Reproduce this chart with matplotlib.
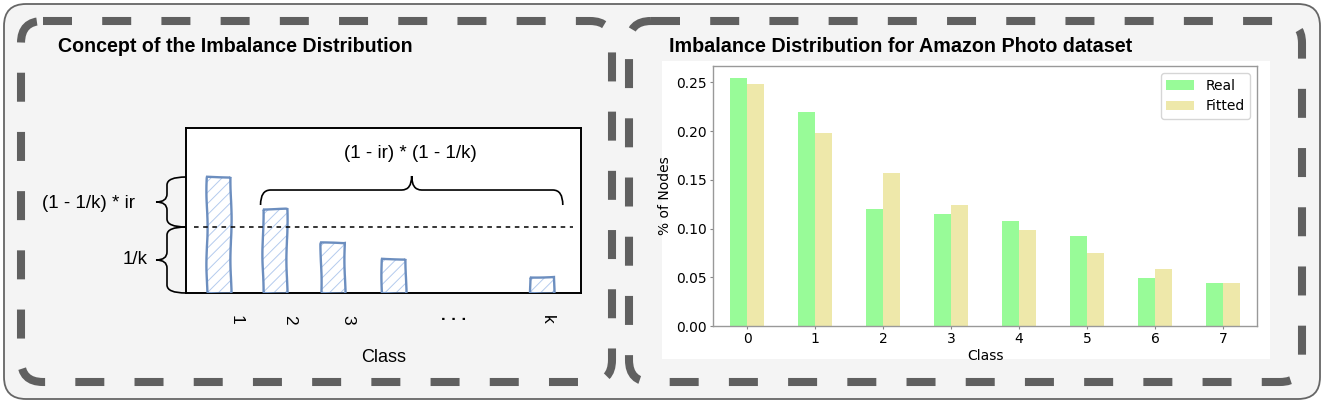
import numpy as np
import matplotlib
matplotlib.use("Agg")
import matplotlib.pyplot as plt
from matplotlib.patches import FancyBboxPatch, Rectangle, PathPatch
from matplotlib.path import Path

W, H = 1325, 405

# left panel: concept sketch (heights relative to the box height)
concept_labels = ["1", "2", "3", "\u00b7 \u00b7 \u00b7", "k"]
concept_pos = [1.0, 1.95, 2.95, 3.98, 6.5]
concept_heights = [0.703, 0.509, 0.303, 0.206, 0.097]
concept_tick_pos = [1.3, 2.2, 3.2, 5.0, 6.6]
uniform_level = 0.4

# right panel: Amazon Photo class distribution
classes = [0, 1, 2, 3, 4, 5, 6, 7]
real = [0.254, 0.220, 0.120, 0.115, 0.108, 0.092, 0.049, 0.044]
fitted = [0.248, 0.198, 0.157, 0.124, 0.098, 0.075, 0.058, 0.044]

TEXT_FONT = ["Liberation Sans", "DejaVu Sans"]
DASH_GRAY = "#606060"


def px_rect(x0, y0, x1, y1):
    return [x0 / W, 1 - y1 / H, (x1 - x0) / W, (y1 - y0) / H]


def to_bg(ax, x, y):
    return bg.transData.inverted().transform(ax.transData.transform((x, y)))


def brace(target, p0, p1, normal, h1, h2, r, **kw):
    # curly brace between p0 and p1 (bg pixel coords), tip pointing along normal
    p0 = np.asarray(p0, float)
    p1 = np.asarray(p1, float)
    L = np.linalg.norm(p1 - p0)
    eu = (p1 - p0) / L
    ev = np.asarray(normal, float)
    local = [(0, 0), (0, h1), (r, h1), (L / 2 - r, h1), (L / 2, h1), (L / 2, h1 + h2),
             (L / 2, h1), (L / 2 + r, h1), (L - r, h1), (L, h1), (L, 0)]
    codes = [Path.MOVETO, Path.CURVE3, Path.CURVE3, Path.LINETO, Path.CURVE3, Path.CURVE3,
             Path.CURVE3, Path.CURVE3, Path.LINETO, Path.CURVE3, Path.CURVE3]
    verts = [p0 + u * eu + v * ev for u, v in local]
    target.add_patch(PathPatch(Path(verts, codes), fill=False, transform=bg.transData,
                               clip_on=False, zorder=5, **kw))


plt.rcParams["hatch.linewidth"] = 0.7
fig = plt.figure(figsize=(W / 100, H / 100), dpi=100)
fig.patch.set_facecolor("white")

# background canvas in pixel coordinates
bg = fig.add_axes([0, 0, 1, 1])
bg.set_xlim(0, W)
bg.set_ylim(H, 0)
bg.axis("off")

bg.add_patch(FancyBboxPatch((4, 4), 1316, 395, boxstyle="round,pad=0,rounding_size=22",
                            fc="#f4f4f4", ec="#666666", lw=1.3))
dash_style = (0, (3.6, 3.75))
bg.add_patch(FancyBboxPatch((21, 21), 591, 361, boxstyle="round,pad=0,rounding_size=22",
                            fill=False, ec=DASH_GRAY, lw=5.8, ls=dash_style))
bg.add_patch(FancyBboxPatch((629, 21), 673, 361, boxstyle="round,pad=0,rounding_size=22",
                            fill=False, ec=DASH_GRAY, lw=5.8, ls=dash_style))
bg.add_patch(Rectangle((662, 61), 608, 298, fc="white", ec="none"))

bg.text(58, 52, "Concept of the Imbalance Distribution", fontsize=14.1, fontweight="bold",
        family=TEXT_FONT, va="baseline", ha="left")
bg.text(669, 52, "Imbalance Distribution for Amazon Photo dataset", fontsize=14.2,
        fontweight="bold", family=TEXT_FONT, va="baseline", ha="left")

# ---- left concept panel ----
ax1 = fig.add_axes(px_rect(186, 128, 581, 293))
ax1.set_xlim(0.44, 7.17)
ax1.set_ylim(0, 1)
ax1.set_facecolor("white")
for s in ax1.spines.values():
    s.set_linewidth(1.4)
    s.set_color("black")
ax1.set_xticks([])
ax1.set_yticks([])

ax1.bar(concept_pos, concept_heights, width=0.41, color="white", edgecolor="#b4cbee",
        hatch="///", linewidth=0, zorder=2)
edges = ax1.bar(concept_pos, concept_heights, width=0.41, fill=False, edgecolor="#6c8ebf",
                linewidth=1.7, zorder=3)
for p in edges:
    p.set_sketch_params(0.6, 80, 1.5)
ax1.hlines(uniform_level, 0.58, 7.03, colors="black", linestyles=(0, (3, 3)), lw=1.1, zorder=4)

for lab, xp in zip(concept_labels, concept_tick_pos):
    dots = lab.startswith("\u00b7")
    ax1.text(xp, -0.16, lab, rotation=0 if dots else -90, ha="center", va="center",
             fontsize=12 if dots else 12.5, fontweight="bold" if dots else "normal",
             family=TEXT_FONT, clip_on=False)
ax1.set_xlabel("Class", fontsize=13, family=TEXT_FONT, labelpad=40)

# braces
fig.canvas.draw()
top1 = to_bg(ax1, 0.44, concept_heights[0])
mid = to_bg(ax1, 0.44, uniform_level)
bot = to_bg(ax1, 0.44, 0)
brace_kw = dict(ec="black", lw=1.2)
brace(bg, top1, mid, (-1, 0), 19, 11, 8, **brace_kw)
brace(bg, mid, bot, (-1, 0), 19, 11, 8, **brace_kw)
left2 = to_bg(ax1, concept_pos[1] - 0.24, concept_heights[1])
right2 = to_bg(ax1, concept_pos[-1] + 0.36, concept_heights[1])
brace(ax1, (left2[0], left2[1] - 4), (right2[0], right2[1] - 4), (0, -1), 15, 14, 10, **brace_kw)

bg.text(135, 203, "(1 - 1/k) * ir", fontsize=13.5, family=TEXT_FONT, ha="right", va="center")
bg.text(148, 260, "1/k", fontsize=13.5, family=TEXT_FONT, ha="right", va="center")
ax1.text(410, 154, "(1 - ir) * (1 - 1/k)", fontsize=13.5, family=TEXT_FONT, ha="center",
         va="center", transform=bg.transData, zorder=6)

# ---- right bar chart ----
ax2 = fig.add_axes(px_rect(713, 66, 1257, 326))
x = np.arange(len(classes))
ax2.bar(x - 0.125, real, width=0.25, color="#98fb98", label="Real")
ax2.bar(x + 0.125, fitted, width=0.25, color="#eee8aa", label="Fitted")
ax2.set_xlim(-0.5, 7.5)
ax2.set_xticks(x)
ax2.set_xticklabels([str(c) for c in classes])
ax2.set_yticks([0.0, 0.05, 0.10, 0.15, 0.20, 0.25])
ax2.tick_params(labelsize=10, length=2.5, pad=2, color="#888888")
for s in ax2.spines.values():
    s.set_color("#999999")
    s.set_linewidth(1.0)
ax2.set_xlabel("Class", fontsize=10, labelpad=2)
ax2.set_ylabel("% of Nodes", fontsize=10, labelpad=3)
ax2.legend(fontsize=10, loc="upper right")

fig.savefig("out.png", dpi=100)
